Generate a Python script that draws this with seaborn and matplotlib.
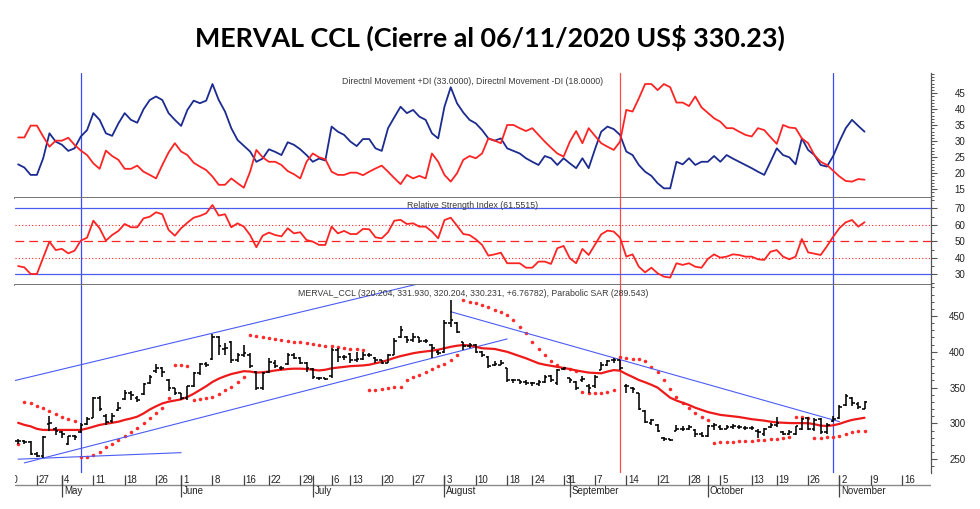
import numpy as np
import pandas as pd
import matplotlib
matplotlib.use("Agg")
import matplotlib.pyplot as plt
import seaborn as sns
from matplotlib.ticker import MultipleLocator

# ---------------- data ----------------
title = "MERVAL CCL (Cierre al 06/11/2020 US$ 330.23)"
di_label = "Directnl Movement +DI (33.0000), Directnl Movement -DI (18.0000)"
rsi_label = "Relative Strength Index (61.5515)"
price_label = ("MERVAL_CCL (320.204, 331.930, 320.204, 330.231, +6.76782), "
               "Parabolic SAR (289.543)")

holidays = ["05-01", "05-25", "06-15", "07-09", "07-10", "08-17", "10-12"]
first_session = "04-22"

open_ = [276, 275, 274, 258, 255, 299, 293, 288, 272, 282,
         288, 299, 308, 336, 311, 303, 319, 334, 343, 336,
         341, 356, 373, 378, 361, 349, 342, 336, 352, 370,
         383, 390, 420, 404, 414, 388, 396, 395, 372, 350,
         372, 385, 377, 383, 396, 392, 385, 376, 364, 363,
         366, 402, 393, 397, 388, 390, 395, 392, 388, 385,
         396, 420, 420, 417, 420, 415, 410, 400, 400, 440,
         440, 414, 408, 410, 400, 393, 382, 382, 377, 360,
         360, 358, 356, 355, 358, 366, 356, 376, 363, 358,
         360, 352, 352, 375, 382, 389, 388, 352, 350, 342,
         318, 300, 298, 280, 278, 290, 293, 292, 291, 286,
         283, 296, 295, 293, 295, 295, 294, 294, 289, 285,
         295, 298, 288, 286, 285, 293, 307, 292, 306, 288,
         303, 308, 326, 335, 327, 320.204]
high = [278, 277, 275, 260, 283, 310, 295, 289, 283, 284,
        301, 309, 337, 338, 313, 315, 330, 347, 345, 338,
        357, 368, 383, 379, 362, 350, 343, 353, 372, 385,
        386, 425, 422, 412, 415, 398, 410, 398, 373, 372,
        391, 388, 380, 398, 398, 393, 386, 377, 365, 364,
        405, 405, 395, 398, 400, 400, 398, 393, 389, 397,
        419, 436, 422, 426, 421, 418, 411, 402, 444, 472,
        442, 414, 413, 411, 401, 394, 387, 388, 378, 362,
        361, 360, 358, 360, 368, 367, 376, 379, 364, 359,
        366, 355, 367, 386, 389, 391, 389, 355, 351, 343,
        319, 306, 299, 281, 279, 298, 296, 298, 292, 288,
        298, 301, 298, 298, 299, 298, 297, 297, 292, 294,
        300, 309, 290, 291, 297, 308, 309, 307, 308, 301,
        310, 326, 341, 337, 330, 331.930]
low = [272, 271, 256, 253, 252, 290, 284, 280, 270, 277,
       287, 298, 307, 318, 298, 301, 318, 333, 333, 330,
       340, 355, 371, 365, 346, 340, 333, 333, 351, 368,
       379, 389, 396, 396, 384, 386, 393, 378, 347, 347,
       371, 378, 375, 382, 390, 383, 372, 362, 361, 360,
       364, 386, 388, 385, 386, 389, 393, 384, 383, 384,
       395, 419, 412, 414, 412, 412, 391, 396, 399, 435,
       426, 403, 405, 398, 393, 377, 380, 381, 358, 357,
       355, 354, 353, 353, 357, 358, 354, 374, 357, 347,
       358, 342, 350, 374, 380, 385, 375, 343, 342, 319,
       300, 298, 288, 276, 275, 289, 290, 291, 281, 281,
       281, 291, 291, 292, 292, 292, 291, 291, 280, 283,
       294, 295, 284, 284, 284, 291, 291, 290, 286, 286,
       302, 306, 325, 325, 320, 320.204]
close = [275, 274, 258, 255, 281, 300, 290, 285, 282, 281,
         298, 306, 335, 320, 302, 310, 322, 343, 340, 333,
         355, 365, 378, 372, 350, 342, 336, 352, 370, 383,
         382, 420, 408, 405, 388, 395, 398, 380, 350, 370,
         386, 380, 377, 395, 392, 385, 378, 365, 363, 362,
         402, 393, 393, 388, 390, 395, 396, 388, 385, 395,
         415, 430, 417, 420, 415, 415, 405, 398, 440, 445,
         428, 408, 410, 400, 395, 380, 383, 385, 360, 360,
         358, 357, 356, 358, 365, 360, 375, 378, 360, 350,
         362, 350, 365, 382, 387, 388, 378, 352, 348, 320,
         302, 305, 290, 278, 277, 293, 293, 295, 285, 283,
         296, 298, 293, 295, 296, 295, 294, 294, 288, 293,
         298, 300, 286, 288, 296, 306, 292, 305, 288, 298,
         306, 323, 338, 328, 323.463, 330.231]
moving_avg = [301, 298, 296, 292.5, 291, 291, 291, 291, 291, 291,
              291, 293, 295.5, 298, 299.5, 301, 302.5, 305, 307, 309.5,
              314, 319.5, 324, 328, 330.4, 332, 333.7, 337, 341.5, 346.7,
              352, 358, 362.5, 366, 369, 371, 373, 372.5, 371, 371.5,
              372.5, 374, 375, 376, 376.5, 376.5, 376, 375, 374, 375,
              377, 378, 379, 380, 380.5, 381, 382, 384, 386, 388.5,
              391.5, 394, 396, 398, 399.5, 400.5, 401.6, 403, 405, 407,
              408.5, 409.5, 409, 407, 405, 404.5, 404, 402, 400, 397,
              394, 391, 387.5, 384, 382, 380.5, 379, 377.5, 376, 374,
              372.5, 371, 370.5, 370, 372.5, 374.5, 373.7, 369, 365, 360.7,
              357.5, 354, 350, 343, 336, 332, 329, 325.8, 322, 319,
              316, 314, 312, 311, 310, 309, 307.5, 306, 305, 304,
              302.5, 301.5, 301, 300.6, 300.5, 300.4, 300.4, 299, 297, 296.5,
              297.5, 299.5, 302.5, 305, 306.5, 308]
sar = [271, 330.4, 329, 324.4, 321, 317.4, 312.8, 309.5, 306, 304,
       253.6, 253.6, 256, 260.6, 267.6, 272, 277, 282.5, 288.5, 294,
       300, 307, 314, 321, 335, 382, 381, 380, 332.8, 333.7,
       335, 337.4, 340.7, 346.7, 351.3, 358.3, 365.3, 423.5, 422, 421,
       419.8, 418, 416.5, 415.6, 414, 413.3, 412, 411, 409.5, 408.5,
       407.5, 406.5, 405.5, 404.5, 403.5, 402.5, 346.7, 346.7, 348, 349.5,
       350.5, 351.3, 360.7, 364.4, 367.7, 372.3, 375.6, 380.2, 383, 388.6,
       395.6, 472, 470, 467.7, 465.4, 462, 458, 455, 451, 444.4,
       435, 425.8, 414, 403.5, 395.6, 387.2, 381.6, 377, 375.6, 373.2,
       344, 342.5, 342, 343, 344.5, 346.7, 392.3, 391.8, 390.5, 389.6,
       387.2, 378.4, 372.3, 360.7, 347.7, 337.4, 329, 321.2, 315, 309.5,
       304.8, 273, 273.5, 274, 274.5, 275, 275.5, 276, 276.5, 277,
       278, 279, 280, 281, 309.5, 308.6, 308, 280.2, 280.2, 281.2,
       281.6, 282.5, 285.3, 287.6, 289.0, 289.543]
di_plus = [22.8, 21.8, 19.5, 19.5, 24.7, 32.5, 29.9, 28.9, 27.0, 27.8,
           31.5, 33.5, 38.8, 36.7, 32.5, 31.7, 35.6, 38.8, 36.7, 35.8,
           40.0, 42.9, 44.0, 42.9, 38.8, 36.7, 34.8, 39.8, 42.7, 41.9,
           42.7, 47.9, 42.9, 39.3, 34.1, 30.4, 28.6, 26.8, 23.6, 24.6,
           27.5, 26.7, 25.7, 29.7, 28.9, 27.5, 25.7, 23.6, 24.6, 24.0,
           34.6, 33.0, 32.0, 29.9, 28.5, 30.7, 30.7, 27.8, 27.0, 34.1,
           37.5, 40.8, 38.8, 39.8, 37.7, 36.7, 32.5, 30.9, 40.8, 46.9,
           41.9, 39.0, 36.7, 35.6, 33.5, 30.9, 30.2, 30.9, 27.8, 27.0,
           26.2, 24.7, 23.6, 22.6, 25.4, 24.7, 22.6, 24.7, 23.1, 21.6,
           24.7, 21.6, 27.5, 33.0, 34.6, 33.8, 32.0, 26.8, 25.7, 22.6,
           20.5, 19.2, 16.9, 15.3, 15.3, 23.6, 22.8, 24.7, 22.6, 23.6,
           23.6, 25.4, 23.6, 25.7, 24.6, 23.6, 22.6, 21.6, 20.5, 19.5,
           23.6, 27.8, 25.7, 25.0, 22.8, 30.9, 27.3, 25.7, 22.6, 22.1,
           25.4, 30.0, 34.1, 36.7, 34.8, 33.0]
di_minus = [31.2, 31.2, 34.9, 34.9, 31.5, 28.3, 30.2, 30.2, 31.1, 28.9,
            27.1, 25.7, 23.1, 21.4, 27.1, 25.4, 24.2, 21.4, 21.4, 22.4,
            20.5, 19.5, 18.4, 22.6, 26.5, 29.4, 26.8, 25.7, 23.3, 22.1,
            21.0, 19.0, 16.4, 16.4, 18.4, 16.9, 15.5, 20.5, 27.3, 25.0,
            23.6, 23.6, 22.6, 20.7, 19.7, 18.4, 23.6, 26.2, 25.0, 24.4,
            20.5, 19.5, 19.5, 20.2, 20.2, 19.4, 20.5, 21.5, 22.4, 20.5,
            18.5, 16.6, 19.5, 18.4, 19.2, 18.4, 26.2, 23.6, 19.5, 17.4,
            20.0, 24.2, 25.4, 24.7, 26.2, 30.9, 30.2, 29.4, 35.1, 35.1,
            34.1, 33.2, 34.1, 32.0, 29.9, 28.0, 26.2, 25.2, 29.9, 33.2,
            29.4, 34.1, 31.7, 29.4, 28.3, 27.3, 29.9, 39.8, 39.3, 43.4,
            47.9, 47.9, 46.0, 47.9, 46.9, 42.1, 42.1, 41.0, 44.0, 40.6,
            38.9, 37.2, 36.1, 34.1, 34.1, 33.0, 32.0, 31.5, 34.1, 33.5,
            31.3, 29.2, 35.1, 34.3, 34.1, 30.9, 29.4, 25.7, 23.6, 22.6,
            20.8, 19.0, 17.6, 17.4, 18.2, 18.0]
rsi = [35.0, 34.2, 30.2, 30.2, 40.1, 49.8, 44.7, 45.4, 42.7, 44.3,
       50.4, 52.2, 62.5, 57.9, 50.4, 53.8, 56.3, 60.5, 58.5, 58.5,
       63.9, 64.9, 67.6, 66.4, 56.9, 53.4, 57.9, 61.3, 64.3, 65.4,
       67.0, 72.0, 65.6, 66.4, 58.5, 60.9, 58.9, 53.8, 46.4, 53.4,
       55.3, 53.8, 53.0, 57.9, 54.8, 55.5, 50.8, 49.8, 47.8, 47.8,
       58.9, 54.8, 56.3, 54.4, 54.4, 57.5, 57.3, 52.4, 51.8, 55.5,
       62.5, 63.0, 60.5, 60.9, 58.9, 58.9, 55.9, 51.8, 62.9, 64.3,
       59.5, 54.4, 53.8, 51.2, 47.8, 41.3, 42.1, 43.1, 36.7, 36.7,
       36.7, 34.0, 34.0, 37.7, 37.7, 36.3, 45.8, 47.2, 39.7, 36.7,
       45.4, 41.7, 48.0, 54.2, 56.5, 55.9, 52.2, 40.7, 42.1, 34.6,
       31.2, 34.0, 30.6, 28.6, 28.0, 36.7, 35.7, 36.7, 34.6, 34.0,
       39.3, 42.1, 40.1, 40.7, 42.1, 41.7, 40.7, 40.7, 39.1, 38.7,
       43.7, 44.7, 40.7, 39.1, 40.7, 51.4, 43.3, 42.5, 41.7, 47.0,
       52.8, 58.0, 61.5, 62.9, 58.9, 61.55]

# trend lines: (dates, values)
channel_top = (["04-22", "07-22"], [361.0, 486.8])
channel_bottom = (["04-23", "08-18"], [245.0, 418.0])
base_line = (["04-22", "06-01"], [250.2, 259.3])
down_line = (["08-04", "11-02"], [456.0, 302.5])
signal_dates = ["05-07", "09-11", "10-30"]
signal_kinds = ["buy", "sell", "buy"]

day_ticks = ["04-20", "04-27", "05-04", "05-11", "05-18", "05-26", "06-01",
             "06-08", "06-16", "06-22", "06-29", "07-06", "07-13", "07-20",
             "07-27", "08-03", "08-10", "08-18", "08-24", "08-31", "09-07",
             "09-14", "09-21", "09-28", "10-05", "10-13", "10-19", "10-26",
             "11-02", "11-09", "11-16"]
month_ticks = ["05-04", "06-01", "07-01", "08-03", "09-01", "10-01", "11-02"]
month_names = ["May", "June", "July", "August", "September", "October", "November"]

# ---------------- calendar ----------------
cal = [d for d in pd.bdate_range("2020-04-20", "2020-11-20")
       if d.strftime("%m-%d") not in holidays]
pos = {d.strftime("%m-%d"): j for j, d in enumerate(cal)}
n = len(close)
x0 = pos[first_session]
xs = np.arange(x0, x0 + n)

# ---------------- style ----------------
sns.set_theme(style="white")
plt.rcParams["font.family"] = ["Liberation Sans", "DejaVu Sans"]

NAVY = "#1c2b8f"
RED = "#ff2424"
BLUE_LINE = "#4b5cf2"
VBLUE = "#3a4cff"
VRED = "#ff4a4a"
AXIS = "#555555"
SEP = "#6a6a6a"

W, H = 980, 509
fig = plt.figure(figsize=(W / 100, H / 100), dpi=100)
fig.patch.set_facecolor("white")

left_px, right_px = 15, 930.7
def box(top, bottom):
    return [left_px / W, 1 - bottom / H, (right_px - left_px) / W, (bottom - top) / H]

ax_di = fig.add_axes(box(73, 198))
ax_rsi = fig.add_axes(box(198, 284.5))
ax_p = fig.add_axes(box(284.5, 473))
ax_x = fig.add_axes(box(473, 498))

px_per_day = 6.27
xl = x0 - (18.1 - left_px) / px_per_day
xr = x0 + (right_px - 18.1) / px_per_day
for ax in (ax_di, ax_rsi, ax_p, ax_x):
    ax.set_xlim(xl, xr)
    ax.set_facecolor("white")
    for s in ax.spines.values():
        s.set_visible(False)
    ax.set_xticks([])
    ax.grid(False)

panels = [
    (ax_di, (12.28, 51.34), [15, 20, 25, 30, 35, 40, 45], 1),
    (ax_rsi, (23.82, 76.24), [30, 40, 50, 60, 70], 5),
    (ax_p, (230.9, 493.96), [250, 300, 350, 400, 450], 10),
]
for ax, ylim, majors, minor in panels:
    ax.set_ylim(*ylim)
    ax.yaxis.tick_right()
    ax.set_yticks(majors)
    ax.yaxis.set_minor_locator(MultipleLocator(minor))
    ax.spines["right"].set_visible(True)
    ax.spines["right"].set_color(AXIS)
    ax.spines["right"].set_linewidth(0.9)
    ax.tick_params(axis="y", which="major", direction="out", length=4, width=0.8,
                   color=AXIS, labelsize=7, labelcolor="#222222", pad=21.0)
    ax.tick_params(axis="y", which="minor", direction="out", length=2.5,
                   width=0.7, color=AXIS)
    for lab in ax.get_yticklabels():
        lab.set_horizontalalignment("right")
    ax.set_ylabel("")

for ax in (ax_di, ax_rsi):
    ax.spines["bottom"].set_visible(True)
    ax.spines["bottom"].set_color(SEP)
    ax.spines["bottom"].set_linewidth(1.3)

# ---------------- DI panel ----------------
sns.lineplot(x=xs, y=di_plus, ax=ax_di, color=NAVY, lw=1.3, estimator=None, sort=False)
sns.lineplot(x=xs, y=di_minus, ax=ax_di, color=RED, lw=1.3, estimator=None, sort=False)

# ---------------- RSI panel ----------------
ax_rsi.axhline(70, color=BLUE_LINE, lw=0.9)
ax_rsi.axhline(30, color=BLUE_LINE, lw=0.9)
ax_rsi.axhline(60, color=RED, lw=0.8, ls=(0, (1, 2)))
ax_rsi.axhline(40, color=RED, lw=0.8, ls=(0, (1, 2)))
ax_rsi.axhline(50, color=RED, lw=0.9, ls=(0, (7, 4)))
sns.lineplot(x=xs, y=rsi, ax=ax_rsi, color=RED, lw=1.3, estimator=None, sort=False)

# ---------------- price panel ----------------
def dx(dates):
    return [pos[d] for d in dates]

ax_p.axline((dx(channel_top[0])[0], channel_top[1][0]),
            (dx(channel_top[0])[1], channel_top[1][1]), color=BLUE_LINE, lw=0.8)
for seg in (channel_bottom, base_line, down_line):
    ax_p.plot(dx(seg[0]), seg[1], color=BLUE_LINE, lw=0.8)

sns.lineplot(x=xs, y=moving_avg, ax=ax_p, color="#ee1a1a", lw=1.6, estimator=None, sort=False)
sns.scatterplot(x=xs, y=sar, ax=ax_p, color="#ff2a2a", s=6.5, linewidth=0, marker="o")

tick = 0.42
ax_p.vlines(xs, low, high, color="black", lw=1.15)
ax_p.hlines(open_, xs - tick, xs, color="black", lw=1.15)
ax_p.hlines(close, xs, xs + tick, color="black", lw=1.15)

for d, kind in zip(signal_dates, signal_kinds):
    for ax in (ax_di, ax_rsi, ax_p):
        ax.axvline(pos[d], color=VBLUE if kind == "buy" else VRED, lw=0.9, zorder=0.5)

# panel captions
cap_kw = dict(ha="center", va="center", fontsize=6.3, color="#3a3a3a")
ax_di.text(0.5, 1 - (81.7 - 73) / 125, di_label, transform=ax_di.transAxes, **cap_kw)
ax_rsi.text(0.5, 1 - (206 - 198) / 86.5, rsi_label, transform=ax_rsi.transAxes, **cap_kw)
ax_p.text(0.5, 1 - (293.3 - 284.5) / 188.5, price_label, transform=ax_p.transAxes, **cap_kw)

# ---------------- x axis rows ----------------
ax_x.set_ylim(0, 1)
ax_x.set_yticks([])
ax_x.axhline(0.52, color="#8a8a8a", lw=1.0)
dtx = dx(day_ticks)
ax_x.vlines(dtx, 0.52, 0.92, color="#444444", lw=0.9)
for x, d in zip(dtx, day_ticks):
    ax_x.text(x + 0.3, 0.72, str(int(d[3:])), ha="left", va="center",
              fontsize=7, color="#222222", clip_on=True)
mtx = dx(month_ticks)
ax_x.vlines(mtx, 0.06, 0.92, color="#444444", lw=0.9)
for x, name in zip(mtx, month_names):
    ax_x.text(x + 0.3, 0.27, name, ha="left", va="center",
              fontsize=7, color="#222222", clip_on=True)

fig.text(0.5, 1 - 38 / H, title, ha="center", va="center", fontsize=19.4,
         fontweight="bold", family=["Lato", "DejaVu Sans"], color="black")

fig.savefig("out.png", dpi=100, facecolor="white")
